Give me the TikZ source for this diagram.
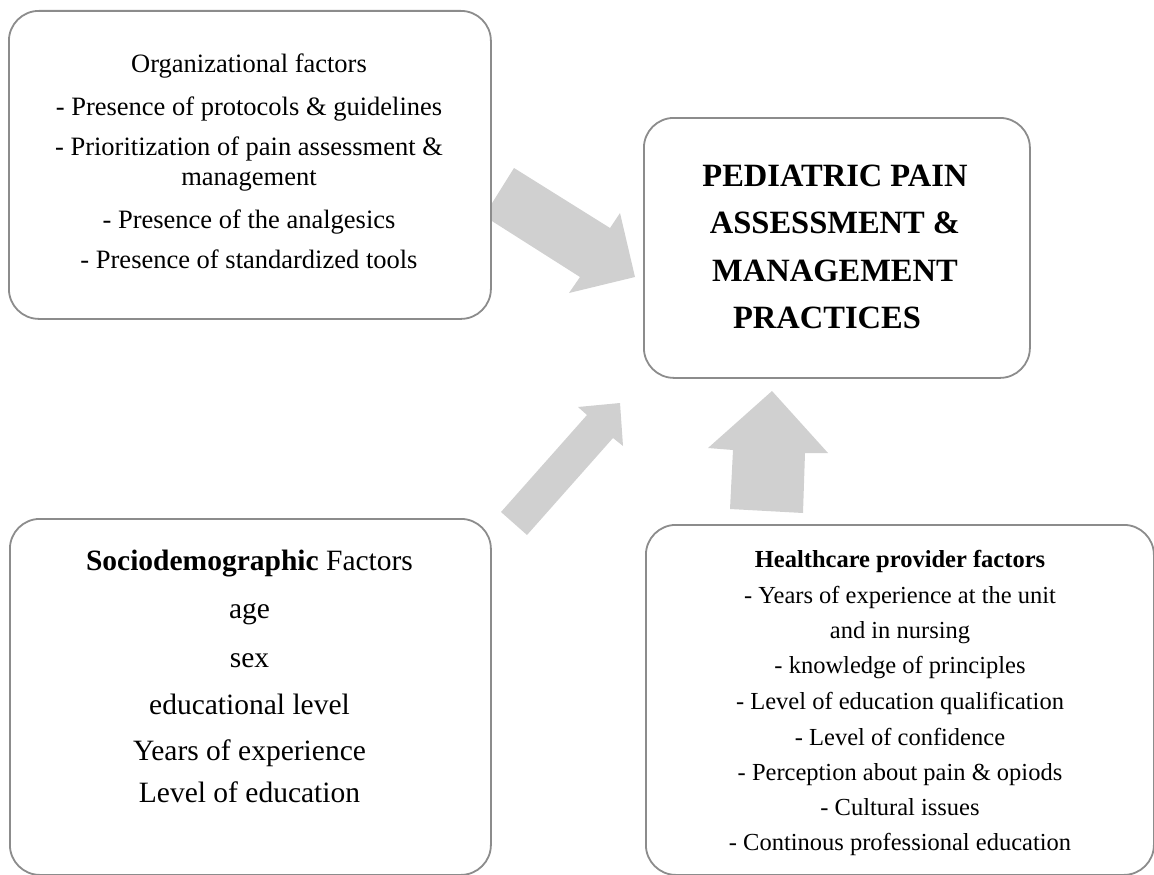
\documentclass[tikz,border=0pt]{standalone}
\usepackage{fontspec}
\setmainfont{Liberation Serif}
\definecolor{arrowgray}{RGB}{208,208,208}
\definecolor{boxgray}{RGB}{140,140,140}
\begin{document}
\begin{tikzpicture}[x=1pt,y=-1pt,
  box/.style={draw=boxgray, line width=1.8pt, rounded corners=30pt, fill=white,
              anchor=north west, inner sep=0pt},
  blockarrow/.style={fill=arrowgray, draw=none},
  orgtext/.style={anchor=base, inner sep=0pt, font=\fontsize{26.5}{30}\selectfont},
  sociotext/.style={anchor=base, inner sep=0pt, font=\fontsize{29.5}{33}\selectfont},
  provtext/.style={anchor=base, inner sep=0pt, font=\fontsize{24.5}{28}\selectfont},
  goaltext/.style={anchor=base, inner sep=0pt, font=\bfseries\fontsize{32.5}{36}\selectfont}]
\useasboundingbox (0,0) rectangle (1154,875);

% block arrows (drawn first, boxes sit on top of them)
\fill[blockarrow] (514,168) -- (610,228) -- (620,213) -- (635,277)
  -- (569,293) -- (580,277) -- (484,216) -- cycle;
\fill[blockarrow] (501,512) -- (587,415) -- (578,407) -- (620,403)
  -- (623,446) -- (613,438) -- (527,535) -- cycle;
\fill[blockarrow] (772,391) -- (828,453) -- (805,453) -- (803,513)
  -- (730,509) -- (733,450) -- (708,448) -- cycle;

% boxes
\node[box, minimum width=482pt, minimum height=308pt] (org) at (8,10) {};
\node[box, minimum width=386pt, minimum height=260pt] (goal) at (643,117) {};
\node[box, minimum width=481pt, minimum height=356pt] (socio) at (9,518) {};
\node[box, minimum width=508pt, minimum height=350pt] (prov) at (645,524) {};

% organizational factors
\foreach \t/\y [count=\i] in {
  {Organizational factors}/73,
  {- Presence of protocols \& guidelines}/115,
  {- Prioritization of pain assessment \&}/155,
  {management}/185,
  {- Presence of the analgesics}/228,
  {- Presence of standardized tools}/268}
  \node[orgtext] (org\i) at (249,\y) {\t};

% central outcome
\foreach \t/\x/\y [count=\i] in {
  {PEDIATRIC PAIN}/835/186,
  {ASSESSMENT \&}/835/233,
  {MANAGEMENT}/835/281,
  {PRACTICES}/827/328}
  \node[goaltext] (goal\i) at (\x,\y) {\t};

% sociodemographic factors
\foreach \t/\y [count=\i] in {
  {\textbf{Sociodemographic} Factors}/570,
  {age}/618,
  {sex}/667,
  {educational level}/714,
  {Years of experience}/760,
  {Level of education}/802}
  \node[sociotext] (socio\i) at (249.5,\y) {\t};

% healthcare provider factors
\foreach \t/\y [count=\i] in {
  {\textbf{Healthcare provider factors}}/567,
  {- Years of experience at the unit}/603,
  {and in nursing}/638,
  {- knowledge of principles}/673,
  {- Level of education qualification}/709,
  {- Level of confidence}/745,
  {- Perception about pain \& opiods}/780,
  {- Cultural issues}/815,
  {- Continous professional education}/850}
  \node[provtext] (prov\i) at (900,\y) {\t};
\end{tikzpicture}
\end{document}
